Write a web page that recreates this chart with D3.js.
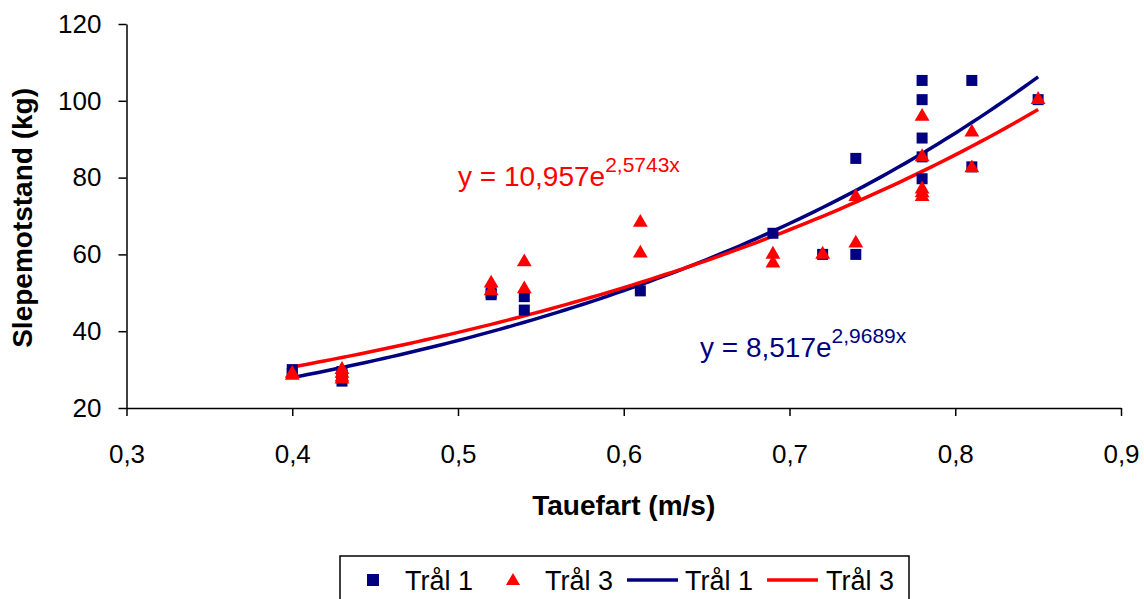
<!DOCTYPE html>
<html lang="no">
<head>
<meta charset="UTF-8">
<script src="https://d3js.org/d3.v7.min.js"></script>
<style>
  body { margin: 0; background: #fff; }
  text { font-family: "Liberation Sans", Arial, sans-serif; }
</style>
</head>
<body>
<script>
const w = 1144;
const h = 599;

// Trål 1 (squares)
const speed1 = [0.40, 0.40, 0.43, 0.43, 0.43, 0.52, 0.52, 0.54, 0.54, 0.61, 0.69, 0.72, 0.74, 0.74,
                0.78, 0.78, 0.78, 0.78, 0.78, 0.81, 0.81, 0.85];
const tral1 = [30, 29, 27, 28.5, 29.5, 50, 49.5, 49, 45.5, 50.5, 65.5, 60, 85, 60,
               105.3, 100.3, 90.3, 85.4, 79.7, 105.3, 82.8, 100.3];

// Trål 3 (triangles)
const speed3 = [0.40, 0.40, 0.43, 0.43, 0.43, 0.43, 0.52, 0.52, 0.54, 0.54, 0.61, 0.61, 0.69, 0.69,
                0.72, 0.74, 0.74, 0.78, 0.78, 0.78, 0.78, 0.78, 0.81, 0.81, 0.85];
const tral3 = [28.5, 29, 30, 29, 28, 27.5, 52.5, 50.5, 58, 51, 68.3, 60.3, 60, 57.7,
               60, 75, 62.9, 95.9, 85.4, 77, 76, 75, 91.8, 82.5, 100.3];

// exponential trendlines y = a * e^(b x), as printed on the chart
const trendNames = ["Trål 1", "Trål 3"];
const trendA = [8.517, 10.957];
const trendB = [2.9689, 2.5743];
const trendLabels = [["y = 8,517e", "2,9689x"], ["y = 10,957e", "2,5743x"]];

const xTicks = [0.3, 0.4, 0.5, 0.6, 0.7, 0.8, 0.9];
const yTicks = [20, 40, 60, 80, 100, 120];

const navy = "#000080";
const red = "#ff0000";

const svg = d3.select("body").append("svg")
    .attr("width", w)
    .attr("height", h);

const xScale = d3.scaleLinear().domain([0.3, 0.9]).range([126.5, 1121]);
const yScale = d3.scaleLinear().domain([20, 120]).range([408, 24]);

// axes
const xAxis = d3.axisBottom(xScale).tickValues(xTicks).tickSize(8).tickSizeOuter(0)
    .tickFormat(d => d3.format(".1f")(d).replace(".", ","));
const yAxis = d3.axisLeft(yScale).tickValues(yTicks).tickSize(8).tickSizeOuter(0);

const gx = svg.append("g").attr("transform", "translate(0," + yScale(20) + ")").call(xAxis);
gx.selectAll("text").attr("y", 55).attr("dy", 0).style("font-size", "26px").style("fill", "#000");

const gy = svg.append("g").attr("transform", "translate(" + xScale(0.3) + ",0)").call(yAxis);
gy.selectAll("text").attr("x", -25).style("font-size", "26px").style("fill", "#000");

svg.selectAll(".domain, .tick line").attr("stroke", "#000").attr("stroke-width", 1.5);

// axis titles
svg.append("text")
    .attr("x", (xScale(0.3) + xScale(0.9)) / 2)
    .attr("y", 515)
    .attr("text-anchor", "middle")
    .style("font-size", "28px")
    .style("font-weight", "bold")
    .text("Tauefart (m/s)");

svg.append("text")
    .attr("transform", "translate(32," + (yScale(69.5)) + ") rotate(-90)")
    .attr("text-anchor", "middle")
    .style("font-size", "28px")
    .style("font-weight", "bold")
    .text("Slepemotstand (kg)");

// trendlines
const colors = [navy, red];
const line = d3.line().x(d => xScale(d[0])).y(d => yScale(d[1]));
const xs = d3.range(0.40, 0.8501, 0.005);
trendA.forEach((a, i) => {
    svg.append("path")
        .attr("d", line(xs.map(x => [x, a * Math.exp(trendB[i] * x)])))
        .attr("fill", "none")
        .attr("stroke", colors[i])
        .attr("stroke-width", 3.5);
});

// points
const sq = 11;
svg.append("g").selectAll("rect")
    .data(speed1.map((s, i) => [s, tral1[i]]))
    .enter().append("rect")
    .attr("x", d => xScale(d[0]) - sq / 2)
    .attr("y", d => yScale(d[1]) - sq / 2)
    .attr("width", sq)
    .attr("height", sq)
    .attr("fill", navy);

const tri = d3.symbol().type(d3.symbolTriangle).size(95);
svg.append("g").selectAll("path")
    .data(speed3.map((s, i) => [s, tral3[i]]))
    .enter().append("path")
    .attr("d", tri)
    .attr("transform", d => "translate(" + xScale(d[0]) + "," + yScale(d[1]) + ")")
    .attr("fill", red);

// equation labels
const eqPos = [[700, 357], [458, 186]];
trendLabels.forEach((lab, i) => {
    const t = svg.append("text")
        .attr("x", eqPos[i][0])
        .attr("y", eqPos[i][1])
        .style("font-size", "28px")
        .style("fill", colors[i]);
    t.append("tspan").text(lab[0]);
    t.append("tspan").attr("dy", -14).style("font-size", "21px").text(lab[1]);
});

// legend
const lg = svg.append("g");
lg.append("rect")
    .attr("x", 340).attr("y", 556)
    .attr("width", 569).attr("height", 50)
    .attr("fill", "#fff").attr("stroke", "#000").attr("stroke-width", 1.5);

const ly = 580;
lg.append("rect").attr("x", 367).attr("y", ly - 6).attr("width", 12).attr("height", 12).attr("fill", navy);
lg.append("path").attr("d", d3.symbol().type(d3.symbolTriangle).size(85))
    .attr("transform", "translate(513," + (ly + 1) + ")").attr("fill", red);
lg.append("line").attr("x1", 627).attr("x2", 678).attr("y1", ly).attr("y2", ly)
    .attr("stroke", navy).attr("stroke-width", 3.5);
lg.append("line").attr("x1", 767).attr("x2", 818).attr("y1", ly).attr("y2", ly)
    .attr("stroke", red).attr("stroke-width", 3.5);

const legendText = ["Trål 1", "Trål 3", trendNames[0], trendNames[1]];
const legendX = [405, 545, 685, 826];
legendText.forEach((t, i) => {
    lg.append("text")
        .attr("x", legendX[i])
        .attr("y", 590)
        .style("font-size", "27px")
        .text(t);
});
</script>
</body>
</html>
